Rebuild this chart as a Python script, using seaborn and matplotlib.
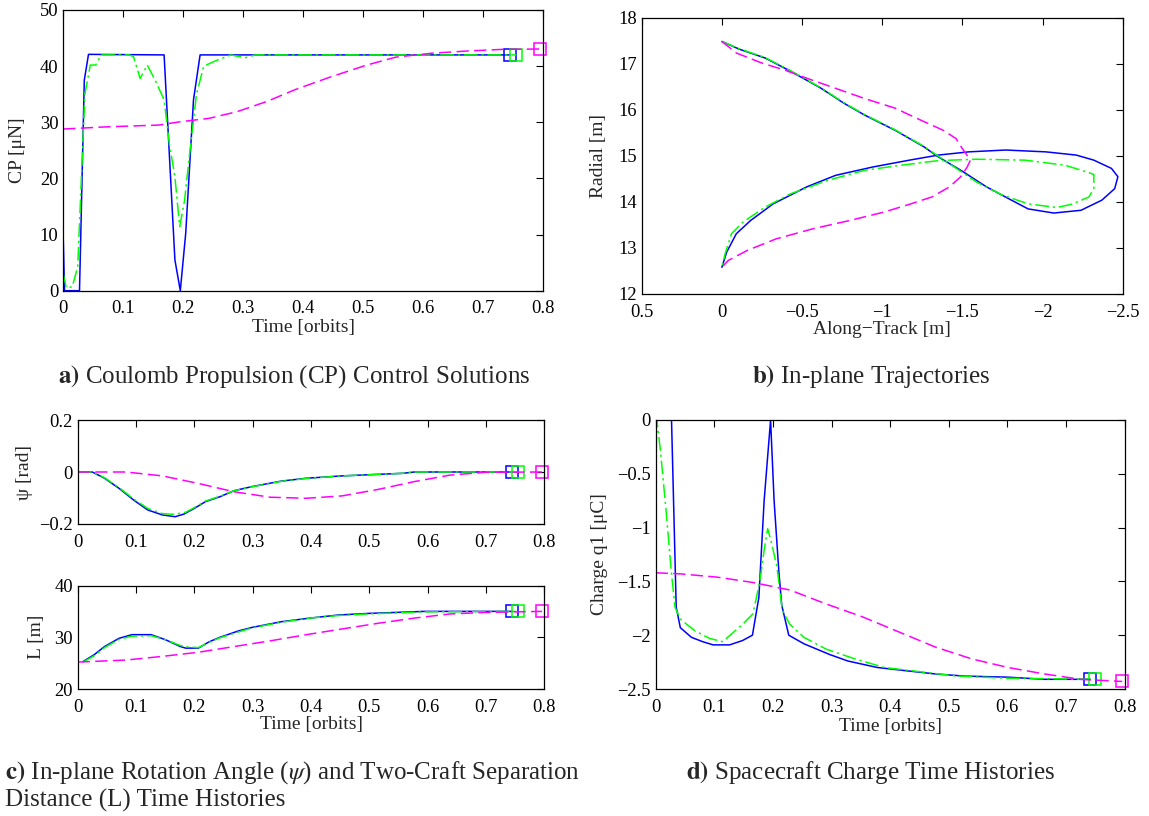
import matplotlib
matplotlib.use("Agg")
import matplotlib.pyplot as plt
import seaborn as sns

# ---- data ----
# a) CP control solutions
cp_t_blue = [0, 0.002, 0.027, 0.035, 0.042, 0.168, 0.186, 0.195, 0.204, 0.217, 0.228, 0.745]
cp_blue = [9, 0, 0, 37.5, 42.1, 42, 5.5, 0, 10.2, 34, 42, 42]
cp_t_green = [0, 0.005, 0.015, 0.024, 0.036, 0.045, 0.054, 0.063, 0.11, 0.117, 0.128, 0.14,
              0.153, 0.168, 0.177, 0.186, 0.194, 0.202, 0.21, 0.222, 0.234, 0.255, 0.279,
              0.303, 0.32, 0.755]
cp_green = [3, 0.5, 0.7, 4.3, 35, 40.2, 40.2, 42, 42, 41.7, 37.8, 40.2,
            37.5, 34, 26, 20.3, 11.4, 16, 23.9, 35, 40, 41, 42,
            41.5, 42, 42]
cp_t_mag = [0, 0.075, 0.159, 0.195, 0.243, 0.29, 0.339, 0.386, 0.446, 0.506, 0.554, 0.614,
            0.674, 0.734, 0.795]
cp_mag = [28.8, 29.2, 29.5, 30.1, 30.7, 31.9, 33.7, 35.8, 38.1, 40.2, 41.6, 42.3,
          42.7, 43, 43.05]

# b) in-plane trajectories (along-track, radial)
tr_x_blue = [0, -0.11, -0.27, -0.43, -0.62, -0.76, -0.89, -1.08, -1.26, -1.35, -1.49, -1.65,
             -1.79, -1.91, -2.07, -2.24, -2.37, -2.45, -2.47, -2.43, -2.32, -2.21, -2.02,
             -1.77, -1.54, -1.35, -1.17, -0.94, -0.71, -0.53, -0.32, -0.18, -0.09, -0.03, 0]
tr_y_blue = [17.49, 17.32, 17.13, 16.84, 16.47, 16.15, 15.89, 15.56, 15.2, 14.98, 14.69, 14.33,
             14.07, 13.85, 13.76, 13.82, 14.04, 14.29, 14.55, 14.73, 14.91, 15.02, 15.09,
             15.13, 15.09, 15.02, 14.91, 14.76, 14.58, 14.33, 13.96, 13.6, 13.31, 12.91, 12.58]
tr_x_green = [0, -0.11, -0.27, -0.43, -0.62, -0.76, -0.89, -1.08, -1.26, -1.45, -1.59, -1.75,
              -1.91, -2.09, -2.18, -2.29, -2.32, -2.32, -2.26, -2.14, -1.89, -1.59, -1.35,
              -1.12, -0.89, -0.66, -0.43, -0.27, -0.13, -0.06, -0.02, 0]
tr_y_green = [17.49, 17.33, 17.14, 16.85, 16.48, 16.16, 15.9, 15.57, 15.21, 14.76, 14.43, 14.15,
              13.96, 13.88, 13.95, 14.11, 14.3, 14.6, 14.67, 14.8, 14.91, 14.93, 14.9,
              14.8, 14.69, 14.47, 14.18, 13.89, 13.56, 13.31, 12.87, 12.58]
tr_x_mag = [0, -0.09, -0.25, -0.39, -0.53, -0.71, -0.89, -1.08, -1.24, -1.38, -1.46, -1.5,
            -1.55, -1.53, -1.49, -1.42, -1.31, -1.17, -1.01, -0.8, -0.57, -0.34, -0.16, -0.04, 0]
tr_y_mag = [17.49, 17.24, 17.02, 16.87, 16.69, 16.47, 16.25, 16.04, 15.78, 15.56, 15.38, 15.16,
            14.91, 14.76, 14.55, 14.33, 14.11, 13.95, 13.78, 13.6, 13.42, 13.2, 12.95, 12.73, 12.58]

# c) rotation angle psi and separation L
psi_t_blue = [0, 0.025, 0.046, 0.071, 0.096, 0.12, 0.145, 0.167, 0.182, 0.2, 0.219, 0.244,
              0.268, 0.299, 0.349, 0.392, 0.453, 0.515, 0.558, 0.577, 0.745]
psi_blue = [0, 0, -0.024, -0.063, -0.108, -0.146, -0.165, -0.172, -0.162, -0.14, -0.114, -0.095,
            -0.072, -0.056, -0.035, -0.024, -0.015, -0.009, -0.005, 0, 0]
psi_t_green = [0, 0.025, 0.046, 0.071, 0.096, 0.12, 0.145, 0.165, 0.185, 0.2, 0.219, 0.244,
               0.268, 0.299, 0.349, 0.392, 0.453, 0.515, 0.558, 0.577, 0.755]
psi_green = [0, 0, -0.022, -0.06, -0.104, -0.14, -0.16, -0.163, -0.155, -0.137, -0.112, -0.093,
             -0.072, -0.057, -0.036, -0.025, -0.015, -0.009, -0.005, 0, 0]
psi_t_mag = [0, 0.083, 0.145, 0.207, 0.268, 0.33, 0.392, 0.453, 0.515, 0.577, 0.638, 0.7, 0.796]
psi_mag = [0, 0, -0.015, -0.044, -0.076, -0.097, -0.101, -0.092, -0.067, -0.037, -0.012, -0.001, 0]

L_t_blue = [0.009, 0.028, 0.046, 0.071, 0.093, 0.126, 0.151, 0.176, 0.185, 0.207, 0.225, 0.244,
            0.275, 0.299, 0.349, 0.398, 0.447, 0.497, 0.546, 0.595, 0.745]
L_blue = [25.3, 26.6, 28.2, 29.8, 30.5, 30.5, 29.5, 28.2, 27.9, 27.9, 29.1, 30,
          31.2, 31.9, 33, 33.7, 34.3, 34.6, 34.8, 35, 35]
L_t_green = [0.009, 0.028, 0.046, 0.071, 0.093, 0.126, 0.151, 0.176, 0.19, 0.207, 0.225, 0.244,
             0.275, 0.299, 0.349, 0.398, 0.447, 0.497, 0.546, 0.595, 0.755]
L_green = [25.2, 26.4, 28.0, 29.6, 30.2, 30.3, 29.5, 28.4, 28.1, 28.0, 29.0, 29.9,
           31.0, 31.8, 32.9, 33.7, 34.2, 34.5, 34.7, 34.9, 35]
L_t_mag = [0, 0.083, 0.145, 0.207, 0.268, 0.33, 0.392, 0.453, 0.515, 0.577, 0.638, 0.7, 0.796]
L_mag = [25.2, 25.6, 26.3, 27.1, 28.2, 29.3, 30.5, 31.6, 32.7, 33.7, 34.5, 34.8, 35]

# d) spacecraft charge q1
q_t_blue = [0, 0.001, 0.027, 0.035, 0.042, 0.061, 0.08, 0.098, 0.126, 0.148, 0.165, 0.176,
            0.185, 0.196, 0.202, 0.21, 0.215, 0.227, 0.253, 0.297, 0.328, 0.378, 0.427,
            0.477, 0.527, 0.601, 0.663, 0.741]
q_blue = [-0.75, 0, 0, -1.74, -1.93, -2.02, -2.06, -2.09, -2.09, -2.05, -2.0, -1.65,
          -0.75, 0, -0.75, -1.4, -1.72, -2.0, -2.08, -2.18, -2.24, -2.3, -2.33,
          -2.36, -2.38, -2.39, -2.41, -2.41]
q_t_green = [0, 0.002, 0.008, 0.017, 0.027, 0.033, 0.042, 0.067, 0.092, 0.114, 0.129, 0.148,
             0.166, 0.178, 0.185, 0.191, 0.198, 0.207, 0.216, 0.229, 0.253, 0.291, 0.34,
             0.39, 0.452, 0.514, 0.601, 0.75]
q_green = [-0.5, 0, -0.28, -0.8, -1.43, -1.74, -1.85, -1.96, -2.03, -2.06, -1.99, -1.9,
           -1.8, -1.49, -1.21, -1.01, -1.15, -1.37, -1.77, -1.9, -2.02, -2.13, -2.22,
           -2.3, -2.34, -2.38, -2.4, -2.41]
q_t_mag = [0, 0.042, 0.104, 0.166, 0.229, 0.291, 0.353, 0.415, 0.477, 0.539, 0.601, 0.663,
           0.725, 0.796]
q_mag = [-1.42, -1.43, -1.46, -1.51, -1.58, -1.71, -1.83, -1.97, -2.11, -2.22, -2.3, -2.36,
         -2.41, -2.43]

time_ticks = [0, 0.1, 0.2, 0.3, 0.4, 0.5, 0.6, 0.7, 0.8]
time_labels = ["0", "0.1", "0.2", "0.3", "0.4", "0.5", "0.6", "0.7", "0.8"]

BLUE, GREEN, MAG = "#0000ff", "#00ff00", "#ff00ff"
DASHDOT = (0, (9, 2.5, 1.5, 2.5))
DASHED = (0, (8, 3.5))

sns.set_style("white")
plt.rcParams["font.family"] = ["Liberation Serif", "DejaVu Serif"]
plt.rcParams["mathtext.fontset"] = "stix"
plt.rcParams["axes.unicode_minus"] = True

W, H = 1149, 816
fig = plt.figure(figsize=(W / 100, H / 100), dpi=100)


def add_ax(left, right, top, bottom):
    ax = fig.add_axes([left / W, 1 - bottom / H, (right - left) / W, (bottom - top) / H])
    ax._px = (left, right, top, bottom)
    return ax


def style(ax):
    for s in ax.spines.values():
        s.set_color("black")
        s.set_linewidth(0.9)
    ax.tick_params(direction="in", top=True, right=True, length=5, width=0.8,
                   labelsize=13.3, colors="black")
    ax.tick_params(axis="x", pad=7)
    ax.tick_params(axis="y", pad=3.5)


def xlabel(ax, text, y_px):
    l, r, t, b = ax._px
    ax.set_xlabel(text, fontsize=14, va="center")
    ax.xaxis.set_label_coords(0.5, (b - y_px) / (b - t))


def ylabel(ax, text, x_px):
    l, r, t, b = ax._px
    ax.set_ylabel(text, fontsize=14, va="center")
    ax.yaxis.set_label_coords((x_px - l) / (r - l), 0.5)


def draw(ax, x, y, color, ls, sort=True, mark=True):
    sns.lineplot(x=x, y=y, ax=ax, color=color, linestyle=ls, linewidth=1.1,
                 sort=sort, estimator=None, legend=False)
    if mark:
        ax.plot(x[-1], y[-1], "s", ms=8, mfc="none", mec=color, mew=1.1, clip_on=False)


def minus(v):
    return ("%g" % v).replace("-", "\u2212")


# a)
ax = add_ax(63.3, 543.3, 10, 290.7)
draw(ax, cp_t_blue, cp_blue, BLUE, "-")
draw(ax, cp_t_green, cp_green, GREEN, DASHDOT)
draw(ax, cp_t_mag, cp_mag, MAG, DASHED)
ax.set_xlim(0, 0.8)
ax.set_ylim(0, 50)
ax.set_xticks(time_ticks, time_labels)
ax.set_yticks([0, 10, 20, 30, 40, 50])
style(ax)
xlabel(ax, "Time [orbits]", 328)
ylabel(ax, "CP [\u03bcN]", 18)

# b)
ax = add_ax(641.7, 1122.7, 18, 294)
draw(ax, tr_x_blue, tr_y_blue, BLUE, "-", sort=False, mark=False)
draw(ax, tr_x_green, tr_y_green, GREEN, DASHDOT, sort=False, mark=False)
draw(ax, tr_x_mag, tr_y_mag, MAG, DASHED, sort=False, mark=False)
ax.set_xlim(0.5, -2.5)
ax.set_ylim(12, 18)
bx = [0.5, 0, -0.5, -1, -1.5, -2, -2.5]
ax.set_xticks(bx, [minus(v) for v in bx])
ax.set_yticks([12, 13, 14, 15, 16, 17, 18])
style(ax)
xlabel(ax, "Along\u2212Track [m]", 330)
ylabel(ax, "Radial [m]", 599)

# c) top
ax = add_ax(77.7, 544.3, 420, 524)
draw(ax, psi_t_blue, psi_blue, BLUE, "-")
draw(ax, psi_t_green, psi_green, GREEN, DASHDOT)
draw(ax, psi_t_mag, psi_mag, MAG, DASHED)
ax.set_xlim(0, 0.8)
ax.set_ylim(-0.2, 0.2)
ax.set_xticks(time_ticks, time_labels)
ax.set_yticks([-0.2, 0, 0.2], ["\u22120.2", "0", "0.2"])
style(ax)
ylabel(ax, "\u03c8 [rad]", 24.5)

# c) bottom
ax = add_ax(77.7, 544.3, 585.5, 689)
draw(ax, L_t_blue, L_blue, BLUE, "-")
draw(ax, L_t_green, L_green, GREEN, DASHDOT)
draw(ax, L_t_mag, L_mag, MAG, DASHED)
ax.set_xlim(0, 0.8)
ax.set_ylim(20, 40)
ax.set_xticks(time_ticks, time_labels)
ax.set_yticks([20, 30, 40])
style(ax)
xlabel(ax, "Time [orbits]", 725)
ylabel(ax, "L [m]", 36)

# d)
ax = add_ax(655.7, 1124.6, 420, 689)
draw(ax, q_t_blue, q_blue, BLUE, "-")
draw(ax, q_t_green, q_green, GREEN, DASHDOT)
draw(ax, q_t_mag, q_mag, MAG, DASHED)
ax.set_xlim(0, 0.8)
ax.set_ylim(-2.5, 0)
ax.set_xticks(time_ticks, time_labels)
dy = [-2.5, -2, -1.5, -1, -0.5, 0]
ax.set_yticks(dy, [minus(v) for v in dy])
style(ax)
xlabel(ax, "Time [orbits]", 726)
ylabel(ax, "Charge q1 [\u03bcC]", 599.5)

# captions
cap = dict(fontsize=18, va="baseline", ha="left")
fig.text(58 / W, 1 - 383 / H, r"$\mathbf{a)}$ Coulomb Propulsion (CP) Control Solutions", **cap)
fig.text(752 / W, 1 - 383 / H, r"$\mathbf{b)}$ In-plane Trajectories", **cap)
fig.text(5 / W, 1 - 779 / H,
         r"$\mathbf{c)}$ In-plane Rotation Angle ($\psi$) and Two-Craft Separation", **cap)
fig.text(5 / W, 1 - 807 / H, "Distance (L) Time Histories", **cap)
fig.text(686 / W, 1 - 779 / H, r"$\mathbf{d)}$ Spacecraft Charge Time Histories", **cap)

fig.savefig("out.png", dpi=100, facecolor="white")
